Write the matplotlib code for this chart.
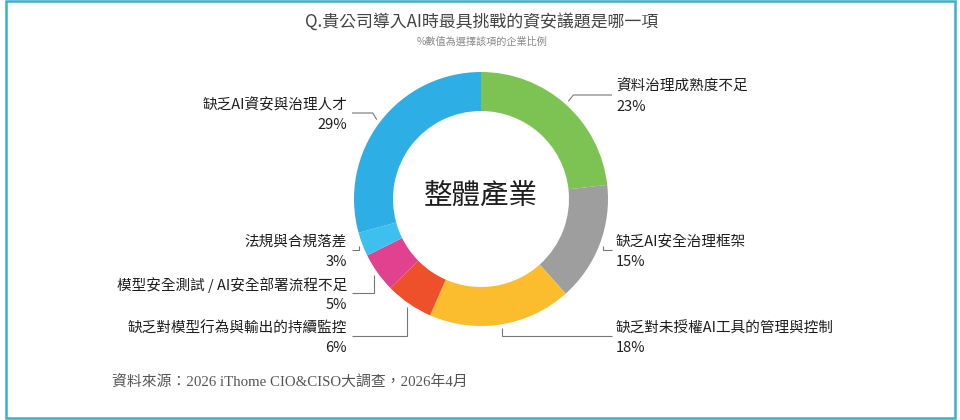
import matplotlib
matplotlib.use('Agg')
import matplotlib.pyplot as plt
import numpy as np
from matplotlib.patches import Rectangle

plt.rcParams['font.family'] = ['Noto Sans CJK TC', 'DejaVu Sans']

categories = ['資料治理成熟度不足', '缺乏AI安全治理框架', '缺乏對未授權AI工具的管理與控制',
              '缺乏對模型行為與輸出的持續監控', '模型安全測試 / AI安全部署流程不足',
              '法規與合規落差', '缺乏AI資安與治理人才']
values = [23, 15, 18, 6, 5, 3, 29]
colors = ['#7DC353', '#9E9E9E', '#FBBD2E', '#EE502C', '#E0428F', '#3EC0EE', '#2DAEE4']
title = 'Q.貴公司導入AI時最具挑戰的資安議題是哪一項'
subtitle = '%數值為選擇該項的企業比例'
center_label = '整體產業'
source = '資料來源：2026 iThome CIO&CISO大調查，2026年4月'

W, H = 960, 420
fig = plt.figure(figsize=(9.6, 4.2), dpi=100)
ax = fig.add_axes([0, 0, 1, 1])


def Y(p):
    return H - p


cx, cy, R, ring = 481, Y(199), 127, 39
wedges, _ = ax.pie(values, colors=colors, startangle=90, counterclock=False,
                   radius=R, center=(cx, cy),
                   wedgeprops=dict(width=ring, edgecolor='none', linewidth=0))
ax.set_xlim(0, W)
ax.set_ylim(0, H)
ax.set_aspect('equal')
ax.axis('off')

# label layout: (side, text x, first-line y in pixels, diagonal elbow offset)
layout = [('r', 616, 87, 5), ('r', 616, 242, 0), ('r', 616, 328, 0),
          ('l', 347, 328, 0), ('l', 347, 285, 0), ('l', 347, 242, 0), ('l', 347, 105, -4)]
for w, cat, val, (side, tx, ty, dx) in zip(wedges, categories, values, layout):
    ang = np.deg2rad((w.theta1 + w.theta2) / 2)
    sx = cx + (R + 4) * np.cos(ang)
    sy = cy + (R + 4) * np.sin(ang)
    ly = Y(ty + 8)
    ex = tx - 4 if side == 'r' else tx + 5
    ax.plot([sx, sx + dx, ex], [sy, ly, ly], color='#777777', lw=0.8,
            solid_capstyle='butt', solid_joinstyle='miter')
    ha = 'left' if side == 'r' else 'right'
    ax.text(tx, Y(ty), cat, ha=ha, va='center', fontsize=10.5, color='#1e1e1e')
    ax.text(tx, Y(ty + 20), f'{val}%', ha=ha, va='center', fontsize=10.5, color='#1e1e1e')

ax.text(cx, Y(196), center_label, ha='center', va='center', fontsize=20.5, color='#1e1e1e')
ax.text(482, Y(22), title, ha='center', va='center', fontsize=12.2, color='#444444')
ax.text(482, Y(42), subtitle, ha='center', va='center', fontsize=7.3, color='#888888')
ax.text(112, Y(383), source, ha='left', va='center', fontsize=10.7, color='#555555',
        family=['Liberation Serif', 'Noto Sans CJK TC'])

ax.add_patch(Rectangle((5.5, Y(418)), 949, 417, fill=False, ec='#38B2C9', lw=1.8, clip_on=False))

fig.savefig('out.png', dpi=100, facecolor='white')
